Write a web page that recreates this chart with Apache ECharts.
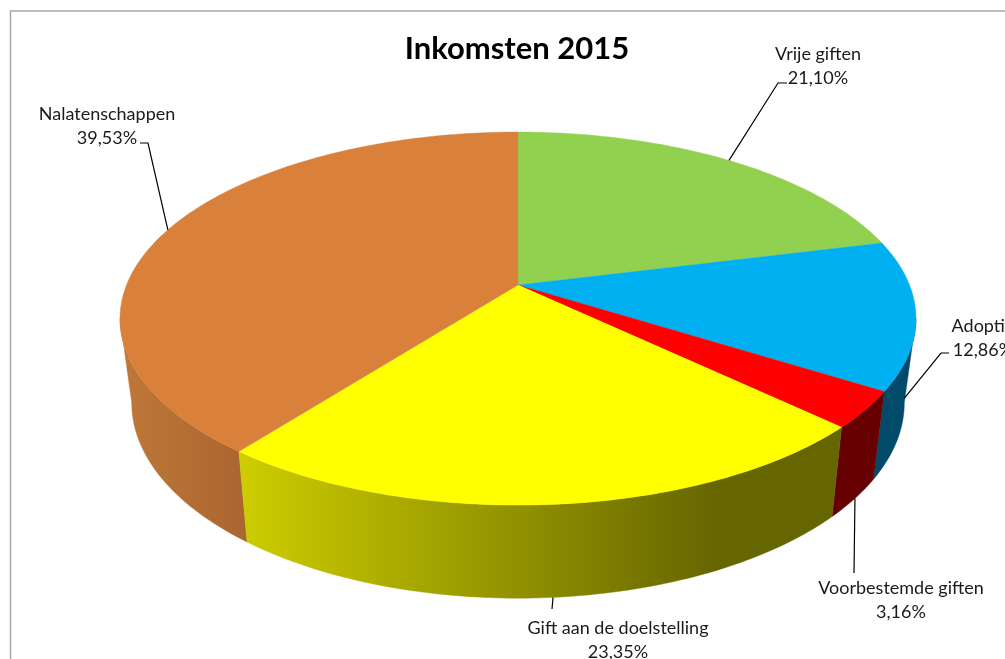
<!DOCTYPE html>
<html>
<head>
<meta charset="utf-8">
<style>html,body{margin:0;padding:0;background:#fff;overflow:hidden}#c{width:1005px;height:659px}</style>
<script src="https://cdn.jsdelivr.net/npm/echarts@6/dist/echarts.min.js"></script>
</head>
<body>
<div id="c"></div>
<script>
// Data
var categories = ['Vrije giften', 'Adoptie', 'Voorbestemde giften', 'Gift aan de doelstelling', 'Nalatenschappen'];
var shares = [21.10, 12.86, 3.16, 23.35, 39.53];
var chartTitle = 'Inkomsten 2015';

// Styles
var topColors = ['#92D050', '#00B0F0', '#FF0000', '#FFFF00', '#D9803B'];
var wallStops = [
  ['#004A6A', '#004A6A'],
  ['#004A6A', '#004A6A'],
  ['#660000', '#660000'],
  ['#CCCC00', '#666600'],
  ['#BF7838', '#AB652F']
];
var wallRange = [[880, 920], [880, 920], [830, 890], [245, 715], [120, 245]];
var wallOrder = [4, 0, 1, 2, 3];
var FONT = 'Lato, Carlito, "Open Sans", sans-serif';

// Projection of the tilted disc (perspective view)
var P = {cx: 518, k: 0.18, topY: 285, topA: 180.5, topB: 391.5, botY: 367.7, botA: 189, botB: 380};
var tangent = Math.asin(P.k) * 180 / Math.PI;
var wallFrom = 90 + tangent, wallTo = 270 - tangent;
function project(deg, bottom) {
  var t = deg * Math.PI / 180, x = Math.sin(t), y = -Math.cos(t), w = 1 - P.k * y;
  return bottom
    ? [P.cx + P.botB * x / w, P.botY + P.botA * y / w]
    : [P.cx + P.topB * x / w, P.topY + P.topA * y / w];
}
function arc(a, b, bottom) {
  var pts = [], n = Math.max(2, Math.ceil(Math.abs(b - a)));
  for (var i = 0; i <= n; i++) pts.push(project(a + (b - a) * i / n, bottom));
  return pts;
}

// Label layout: text centre, and elbow of the leader line
var labelCentre = [[818, 66], [983, 338], [901, 600], [618, 640], [107, 126]];
var leaderElbows = [
  [[778, 83], [787, 83]],
  [[941, 353], [949, 353]],
  [[854, 573]],
  [[552, 609]],
  [[148, 143], [140, 143]]
];
var leaderOnWall = [false, true, true, true, false];

var total = shares.reduce(function (a, b) { return a + b; }, 0);
var starts = [];
shares.reduce(function (acc, v, i) { starts[i] = acc; return acc + v; }, 0);
function deg(v) { return v / total * 360; }

function renderSlice(params, api) {
  var i = params.dataIndex;
  var v = api.value(0);
  var a = deg(starts[i]), b = a + deg(v), mid = (a + b) / 2;
  var children = [];

  // Side wall: only the part of the rim that faces the viewer
  var wa = Math.max(a, wallFrom), wb = Math.min(b, wallTo);
  if (wb > wa) {
    var wall = arc(wa, wb, false).concat(arc(wa, wb, true).reverse());
    var grad = new echarts.graphic.LinearGradient(wallRange[i][0], 0, wallRange[i][1], 0,
      [{offset: 0, color: wallStops[i][0]}, {offset: 1, color: wallStops[i][1]}], true);
    children.push({
      type: 'polygon', z2: 1 + wallOrder.indexOf(i),
      shape: {points: wall},
      style: {fill: grad, stroke: grad, lineWidth: 0.4}
    });
  }

  // Top face
  children.push({
    type: 'polygon', z2: 10,
    shape: {points: [[P.cx, P.topY]].concat(arc(a, b, false))},
    style: {fill: topColors[i], stroke: topColors[i], lineWidth: 0.4}
  });

  // Leader line and label
  var leader = [project(mid, leaderOnWall[i])].concat(leaderElbows[i]);
  children.push({
    type: 'polyline', z2: 20,
    shape: {points: leader},
    style: {fill: null, stroke: '#000', lineWidth: 1.2}
  });
  children.push({
    type: 'text', z2: 30,
    x: labelCentre[i][0], y: labelCentre[i][1],
    style: {
      text: categories[i] + '\n' + v.toFixed(2).replace('.', ',') + '%',
      x: 0, y: 0, align: 'center', verticalAlign: 'middle',
      font: '18px ' + FONT, lineHeight: 24, fill: '#1a1a1a'
    }
  });
  return {type: 'group', children: children};
}

var chart = echarts.init(document.getElementById('c'), null, {renderer: 'canvas', width: 1005, height: 659});
chart.setOption({
  backgroundColor: '#ffffff',
  animation: false,
  title: {
    text: chartTitle, left: 512, top: 28, textAlign: 'center',
    textStyle: {fontFamily: FONT, fontWeight: 'bold', fontSize: 31, color: '#000'}
  },
  graphic: [{
    type: 'polyline', silent: true,
    shape: {points: [[10.5, 665], [10.5, 11], [1010, 11]]},
    style: {fill: null, stroke: '#A6A6A6', lineWidth: 1.5}
  }],
  series: [{
    type: 'custom',
    coordinateSystem: 'none',
    data: shares.map(function (v, i) { return {name: categories[i], value: [v]}; }),
    renderItem: renderSlice
  }]
});
</script>
</body>
</html>
